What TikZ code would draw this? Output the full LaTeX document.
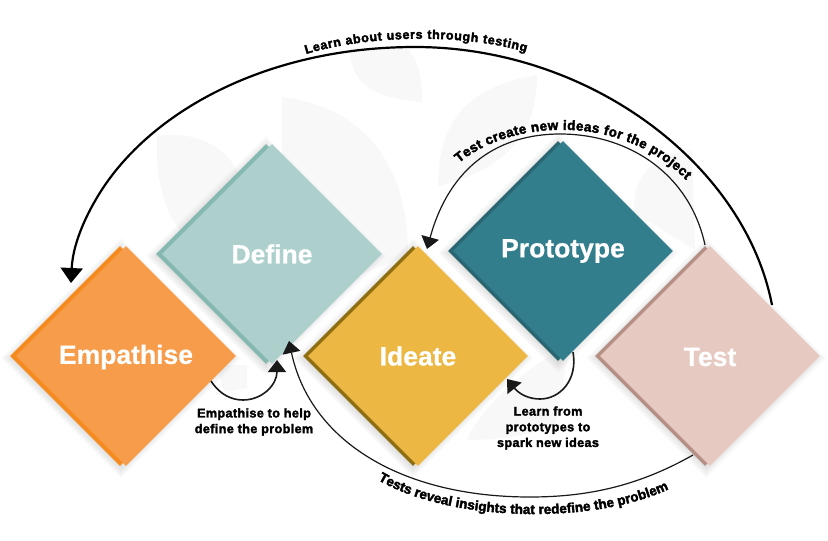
\documentclass[tikz,border=0pt]{standalone}
\usepackage{fontspec}
\setmainfont{Liberation Sans}[BoldFeatures={FakeBold=0.6}]
\newfontfamily\lblfont{Liberation Sans}[BoldFeatures={FakeBold=2.2,LetterSpace=3}]
\newfontfamily\arcfont{Liberation Sans}[BoldFeatures={FakeBold=2.6}]
\usetikzlibrary{shapes.geometric,arrows.meta,decorations.text}
\definecolor{leaf}{HTML}{F9F8F9}
\definecolor{empA}{HTML}{F79C4A}\definecolor{empB}{HTML}{F58A1F}
\definecolor{defA}{HTML}{ADD0CC}\definecolor{defB}{HTML}{85B8B1}
\definecolor{ideA}{HTML}{ECB843}\definecolor{ideB}{HTML}{8F6E12}
\definecolor{proA}{HTML}{337E8C}\definecolor{proB}{HTML}{2A6672}
\definecolor{tesA}{HTML}{E6CAC1}\definecolor{tesB}{HTML}{B58E84}
\newcommand{\dshadow}[2]{%
  \foreach \s in {0,2,4,6,8,10}{%
    \fill[black,opacity=0.018] (#1-4,#2-110-\s+2) -- (#1-114-\s,#2+2) -- (#1-4,#2+112+\s) -- (#1+106+\s,#2+2) -- cycle;}}
\tikzset{
  diam/.style={diamond,aspect=1,inner sep=0pt,minimum width=#1,minimum height=#1},
  head/.style={text=white,font=\fontsize{26.5}{30}\bfseries\selectfont},
  lbl/.style={align=center,font=\lblfont\fontsize{12.6}{15.7}\bfseries\selectfont},
  thin arc/.style={draw=black!90,line width=1.2pt,-{Triangle[length=12pt,width=18pt]}},
  big tip/.style={-{Triangle[length=15pt,width=22pt]}}
}
\begin{document}
\begin{tikzpicture}[x=1pt,y=-1pt]
\useasboundingbox (0,0) rectangle (828,541);
\fill[white] (0,0) rectangle (828,541);
% background leaves
\fill[leaf] (350,48) .. controls (350,85) and (375,98) .. (422,102) .. controls (422,80) and (420,60) .. (405,47) -- cycle;
\fill[leaf] (282,97) .. controls (350,105) and (408,150) .. (408,255) -- (300,300) -- (282,200) -- cycle;
\fill[leaf] (537,75) .. controls (480,85) and (438,110) .. (438,186) .. controls (500,170) and (537,140) .. (537,75) -- cycle;
\fill[leaf] (157,136) .. controls (200,130) and (235,150) .. (245,190) -- (190,240) .. controls (165,220) and (155,180) .. (157,136) -- cycle;
\fill[leaf] (692,150) .. controls (655,155) and (632,175) .. (634,212) -- (695,250) -- cycle;
\fill[leaf] (215,365) -- (247,365) -- (247,388) -- (225,392) -- cycle;
\fill[leaf] (467,440) .. controls (480,410) and (520,370) .. (570,345) -- (555,425) .. controls (530,435) and (500,440) .. (467,440) -- cycle;
% drop shadows
\dshadow{125}{356}\dshadow{270}{254}\dshadow{417}{356}\dshadow{562}{251}\dshadow{710}{356}
% diamonds
\node[diam=220pt,fill=empB] (empEdge) at (120,356) {};
\node[diam=220pt,fill=empA] (emp) at (126,356) {};
\node[head] (empText) at (126,357) {Empathise};
\node[diam=220pt,fill=defB] (defEdge) at (266,254) {};
\node[diam=220pt,fill=defA] (def) at (272,254) {};
\node[head] (defText) at (272,254) {Define};
\node[diam=220pt,fill=ideB] (ideEdge) at (413,356) {};
\node[diam=220pt,fill=ideA] (ide) at (418,356) {};
\node[head] (ideText) at (418,356) {Ideate};
\node[diam=220pt,fill=proB] (proEdge) at (558,251) {};
\node[diam=220pt,fill=proA] (pro) at (563,251) {};
\node[head] (proText) at (563,251) {Prototype};
\node[diam=220pt,fill=tesB] (tesEdge) at (705,356) {};
\node[diam=220pt,fill=tesA] (tes) at (710,356) {};
\node[head] (tesText) at (710,357) {Test};
% connector ends
\coordinate (bigS) at (772,305);
\coordinate (bigE) at (71,283);
\coordinate (protoS) at (705,245);
\coordinate (protoE) at (427,249);
\coordinate (lowS) at (693,455);
\coordinate (lowE) at (289,341);
\coordinate (smallS) at (211,381);
\coordinate (smallE) at (277,360);
\coordinate (learnS) at (573,352);
\coordinate (learnE) at (507,379);
% connectors
\draw[line width=2.2pt,big tip] (bigS) .. controls (745,165) and (590,47) .. (415,47) .. controls (275,47) and (160,105) .. (105,185) .. controls (90,207) and (73,240) .. (bigE);
\draw[thin arc] (protoS) .. controls (690,175) and (630,134) .. (560,134) .. controls (500,134) and (450,165) .. (protoE);
\draw[thin arc] (lowS) .. controls (640,485) and (590,497) .. (530,497) .. controls (400,497) and (310,440) .. (lowE);
\draw[thin arc,line width=1.6pt] (smallS) .. controls (220,395) and (232,400) .. (243,400) .. controls (262,400) and (277,385) .. (smallE);
\draw[thin arc,line width=1.6pt] (learnS) .. controls (578,380) and (560,399) .. (540,399) .. controls (530,399) and (520,395) .. (learnE);
% curved labels
\path[decorate,decoration={text along path,text align={fit to path},text={|\arcfont\fontsize{12.5}{14}\bfseries\selectfont|Learn about users through testing}}] (306,54) .. controls (370,35) and (460,33) .. (526,52);
\path[decorate,decoration={text along path,text align={fit to path},text={|\arcfont\fontsize{13.5}{14}\bfseries\selectfont|Test create new ideas for the project}}] (459,163) .. controls (510,120) and (620,112) .. (686,180);
\path[decorate,decoration={text along path,text align={fit to path},text={|\arcfont\fontsize{13.5}{14}\bfseries\selectfont|Tests reveal insights that redefine the problem}}] (378,480) .. controls (450,522) and (590,525) .. (667,490);
% straight labels
\node[lbl] (empLbl) at (254,422) {Empathise to help\\define the problem};
\node[lbl] (learnLbl) at (548,428) {Learn from\\prototypes to\\spark new ideas};
\end{tikzpicture}
\end{document}
